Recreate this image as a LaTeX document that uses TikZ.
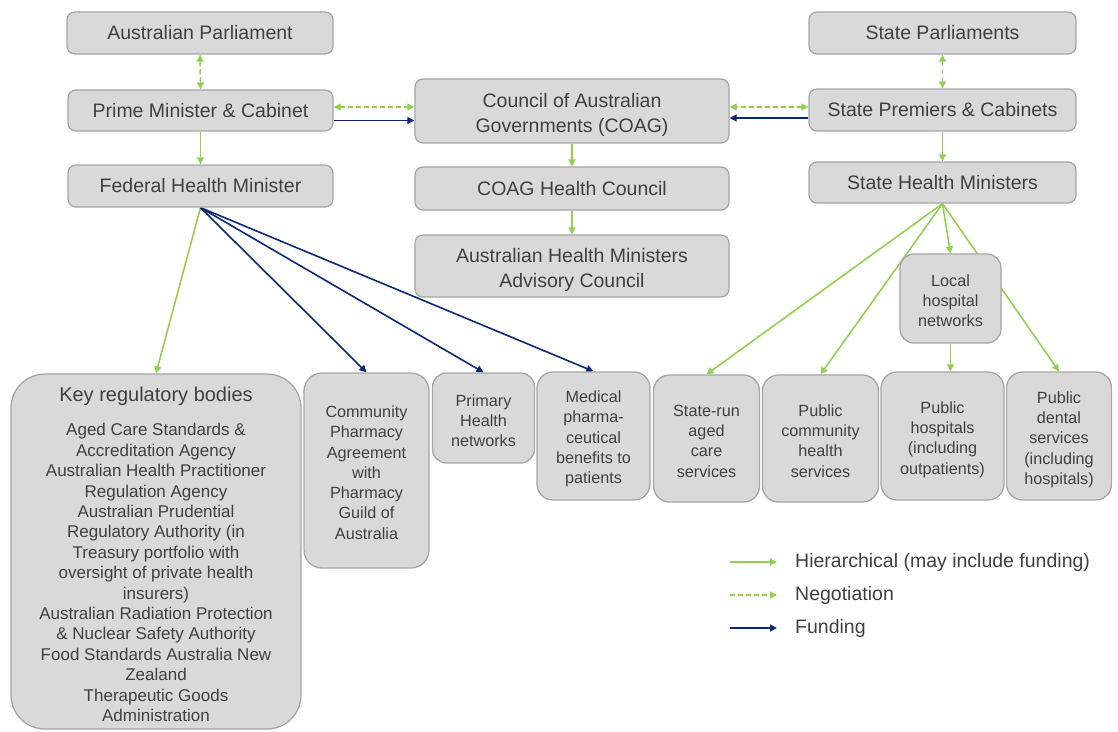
\documentclass[tikz,border=0pt]{standalone}
\usepackage{fontspec}
\setmainfont{Liberation Sans}
\usetikzlibrary{arrows.meta,backgrounds}
\definecolor{boxfill}{HTML}{D9D9D9}
\definecolor{boxline}{HTML}{A6A6A6}
\definecolor{txt}{HTML}{404040}
\definecolor{hier}{HTML}{92D050}
\definecolor{fund}{RGB}{10,40,120}
\newcommand\myup[1]{\rule{0pt}{#1}}
\tikzset{
  box/.style={draw=boxline, fill=boxfill, line width=1.3pt, rounded corners=8pt,
    align=center, text=txt, inner sep=0pt, font=\fontsize{19.5}{25}\selectfont},
  smallbox/.style={box, rounded corners=16pt, font=\fontsize{16.2}{20.3}\selectfont},
  hierarrow/.style={draw=hier, line width=1.6pt, -{Triangle[length=7pt,width=7pt]}},
  negarrow/.style={draw=hier, line width=1.6pt, dash pattern=on 5pt off 3pt,
    {Triangle[length=7pt,width=7pt]}-{Triangle[length=7pt,width=7pt]}},
  negone/.style={draw=hier, line width=1.6pt, dash pattern=on 5pt off 3pt, -{Triangle[length=7pt,width=7pt]}},
  fundarrow/.style={draw=fund, line width=1.6pt, -{Triangle[length=7pt,width=7pt]}},
  legtext/.style={anchor=west, text=txt, inner sep=0pt, font=\fontsize{19.5}{24}\selectfont}
}
\begin{document}
\begin{tikzpicture}[x=1pt,y=-1pt]
\useasboundingbox (0,0) rectangle (1118,731);
% top row boxes
\node[box, minimum width=266pt, minimum height=42pt] (ap) at (200,33) {Australian Parliament};
\node[box, minimum width=265pt, minimum height=41pt] (pm) at (200.5,110.5) {Prime Minister \& Cabinet};
\node[box, minimum width=265pt, minimum height=42pt] (fhm) at (200.5,186) {Federal Health Minister};
\node[box, minimum width=314pt, minimum height=64pt] (coag) at (572,111) {\myup{22.2pt}Council of Australian\\Governments (COAG)};
\node[box, minimum width=314pt, minimum height=43pt] (chc) at (572,188.5) {COAG Health Council};
\node[box, minimum width=314pt, minimum height=62pt] (ahmac) at (572,266) {\myup{22.2pt}Australian Health Ministers\\Advisory Council};
\node[box, minimum width=267pt, minimum height=42pt] (sp) at (942.5,33) {State Parliaments};
\node[box, minimum width=267pt, minimum height=42pt] (spc) at (942.5,110) {State Premiers \& Cabinets};
\node[box, minimum width=267pt, minimum height=41pt] (shm) at (942.5,182.5) {State Health Ministers};
\node[smallbox, rounded corners=14pt, minimum width=101pt, minimum height=89pt] (lhn) at (950.5,298.5) {\myup{15.8pt}Local\\hospital\\networks};
% bottom row
\node[box, rounded corners=34pt, minimum width=290pt, minimum height=355pt,
  font=\fontsize{17}{20.4}\selectfont] (kr) at (156,551.5)
  {{\fontsize{20}{24}\selectfont\myup{20.6pt}Key regulatory bodies}\\[13.6pt]
   Aged Care Standards \&\\Accreditation Agency\\Australian Health Practitioner\\Regulation Agency\\
   Australian Prudential\\Regulatory Authority (in\\Treasury portfolio with\\oversight of private health\\insurers)\\
   Australian Radiation Protection\\\& Nuclear Safety Authority\\Food Standards Australia New\\Zealand\\
   Therapeutic Goods\\Administration};
\node[smallbox, rounded corners=18pt, minimum width=125pt, minimum height=195pt] (cp) at (366.5,470.5)
  {\myup{15.8pt}Community\\Pharmacy\\Agreement\\with\\Pharmacy\\Guild of\\Australia};
\node[smallbox, rounded corners=14pt, minimum width=102pt, minimum height=90pt] (phn) at (483.5,418) {\myup{16.8pt}Primary\\Health\\networks};
\node[smallbox, minimum width=113pt, minimum height=128pt] (med) at (593.5,436) {\myup{17.8pt}Medical\\pharma-\\ceutical\\benefits to\\patients};
\node[smallbox, minimum width=106pt, minimum height=127pt] (sr) at (706.5,438.5) {\myup{16.8pt}State-run\\aged\\care\\services};
\node[smallbox, minimum width=116pt, minimum height=127pt] (pch) at (820.5,438.5) {\myup{16.8pt}Public\\community\\health\\services};
\node[smallbox, minimum width=123pt, minimum height=128pt] (ph) at (942.5,436) {\myup{18.8pt}Public\\hospitals\\(including\\outpatients)};
\node[smallbox, minimum width=105pt, minimum height=128pt] (pd) at (1059,436) {\myup{18.8pt}Public\\dental\\services\\(including\\hospitals)};
% connectors
\begin{pgfonlayer}{background}
\draw[negarrow] (ap.south) -- (pm.north);
\draw[hierarrow] (pm.south) -- (fhm.north);
\draw[negarrow] ([yshift=3.5pt]pm.east) -- ([yshift=3.5pt]pm.east -| coag.west);
\draw[fundarrow] ([yshift=-10pt]pm.east) -- ([yshift=-10pt]pm.east -| coag.west);
\draw[negarrow] ([yshift=3pt]spc.west) -- ([yshift=3pt]spc.west -| coag.east);
\draw[fundarrow] ([yshift=-8pt]spc.west) -- ([yshift=-8pt]spc.west -| coag.east);
\draw[hierarrow] (coag.south) -- (chc.north);
\draw[hierarrow] (chc.south) -- (ahmac.north);
\draw[negarrow] (sp.south) -- (spc.north);
\draw[hierarrow] (spc.south) -- (shm.north);
\draw[hierarrow] (fhm.south) -- (kr.north);
\draw[fundarrow] (fhm.south) -- (cp.north);
\draw[fundarrow] (fhm.south) -- (phn.north);
\draw[fundarrow] (fhm.south) -- (med.north);
\draw[hierarrow] (shm.south) -- (sr.north);
\draw[hierarrow] (shm.south) -- (pch.north);
\draw[hierarrow] (shm.south) -- (lhn.north);
\draw[hierarrow] (shm.south) -- (pd.north);
\draw[hierarrow] (lhn.south) -- (lhn.south |- ph.north);
\end{pgfonlayer}
% legend
\coordinate (l1a) at (730,562); \coordinate (l1b) at (777,562);
\coordinate (l2a) at (730,595); \coordinate (l2b) at (777,595);
\coordinate (l3a) at (730,628); \coordinate (l3b) at (777,628);
\draw[hierarrow] (l1a) -- (l1b);
\draw[negone] (l2a) -- (l2b);
\draw[fundarrow] (l3a) -- (l3b);
\node[legtext] (t1) at (795,562) {Hierarchical (may include funding)};
\node[legtext] (t2) at (795,595) {Negotiation};
\node[legtext] (t3) at (795,628) {Funding};
\end{tikzpicture}
\end{document}
